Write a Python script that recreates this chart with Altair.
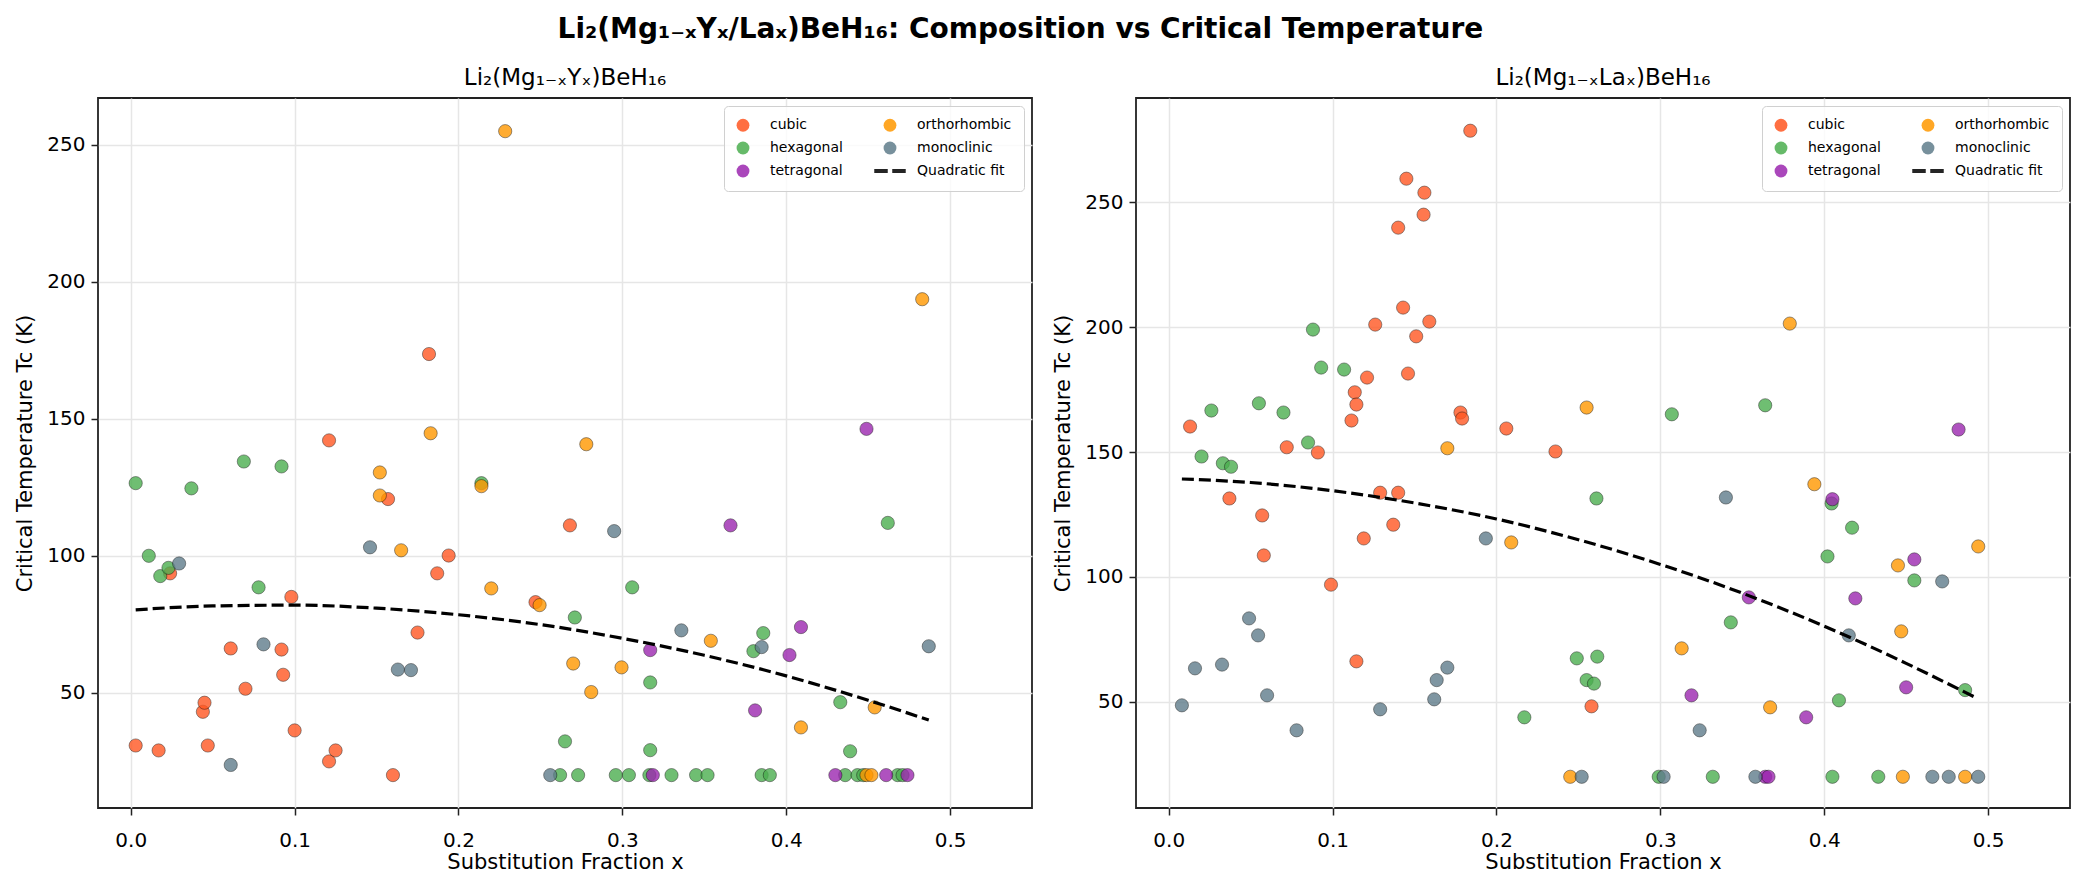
import altair as alt
import pandas as pd

phases = ["cubic", "hexagonal", "tetragonal", "orthorhombic", "monoclinic"]
legend_order = ["cubic", "hexagonal", "tetragonal", "orthorhombic", "monoclinic", "Quadratic fit"]
phase_colors = ["#FF5722", "#4CAF50", "#9C27B0", "#FF9800", "#607D8B", "black"]
dash_symbol = "M-2.45,-0.3H-0.35V0.3H-2.45Z M0.35,-0.3H2.45V0.3H0.35Z"

# Li2(Mg1-xYx)BeH16
y_cubic_x = [0.003, 0.017, 0.024, 0.044, 0.045, 0.047, 0.061, 0.070, 0.092, 0.093, 0.098, 0.100,
             0.121, 0.121, 0.125, 0.157, 0.160, 0.175, 0.182, 0.187, 0.194, 0.247, 0.268]
y_cubic_tc = [30.8, 29.0, 93.6, 43.1, 46.4, 30.8, 66.2, 51.5, 65.8, 56.6, 85.0, 36.3,
              142.1, 25.0, 29.0, 120.7, 20.0, 72.0, 173.6, 93.6, 100.1, 83.1, 111.1]
y_hex_x = [0.003, 0.011, 0.018, 0.023, 0.037, 0.069, 0.078, 0.092, 0.214, 0.262, 0.265, 0.271,
           0.273, 0.296, 0.304, 0.306, 0.3165, 0.317, 0.317, 0.330, 0.345, 0.352, 0.380, 0.385,
           0.386, 0.390, 0.433, 0.436, 0.439, 0.4435, 0.447, 0.462, 0.468, 0.471]
y_hex_tc = [126.5, 100.0, 92.6, 95.6, 124.6, 134.4, 88.5, 132.6, 126.5, 20.0, 32.3, 77.5,
            20.0, 20.0, 20.0, 88.5, 20.0, 53.8, 29.1, 20.0, 20.0, 20.0, 65.2, 20.0,
            71.8, 20.0, 46.6, 20.0, 28.7, 20.0, 20.0, 112.0, 20.0, 20.0]
y_tet_x = [0.317, 0.3186, 0.366, 0.381, 0.402, 0.409, 0.430, 0.449, 0.461, 0.474]
y_tet_tc = [65.6, 20.0, 111.1, 43.6, 63.8, 74.0, 20.0, 146.3, 20.0, 20.0]
y_orth_x = [0.152, 0.152, 0.165, 0.183, 0.214, 0.220, 0.2285, 0.2495, 0.270, 0.278, 0.281,
            0.2995, 0.354, 0.409, 0.449, 0.452, 0.454, 0.483]
y_orth_tc = [130.4, 122.0, 102.0, 144.7, 125.4, 88.1, 254.9, 82.0, 60.7, 140.7, 50.3,
             59.3, 69.0, 37.4, 20.0, 20.0, 44.7, 193.6]
y_mono_x = [0.0295, 0.061, 0.081, 0.146, 0.163, 0.171, 0.256, 0.295, 0.336, 0.385, 0.487]
y_mono_tc = [97.2, 23.7, 67.7, 103.1, 58.5, 58.3, 20.0, 109.0, 72.8, 66.7, 67.0]
y_fit_x = [0.003, 0.05, 0.1, 0.15, 0.2, 0.25, 0.3, 0.35, 0.4, 0.45, 0.487]
y_fit_tc = [80.3, 81.7, 82.0, 80.9, 78.5, 74.9, 69.9, 63.7, 56.2, 47.3, 40.1]

# Li2(Mg1-xLax)BeH16
la_cubic_x = [0.013, 0.037, 0.057, 0.058, 0.072, 0.091, 0.099, 0.1115, 0.1135, 0.1145, 0.1145,
              0.119, 0.121, 0.126, 0.129, 0.137, 0.140, 0.140, 0.143, 0.145, 0.146, 0.151,
              0.1555, 0.156, 0.159, 0.178, 0.179, 0.184, 0.206, 0.236, 0.258]
la_cubic_tc = [160.2, 131.4, 124.6, 108.6, 151.9, 149.8, 96.9, 162.6, 173.9, 169.0, 66.2,
               115.4, 179.8, 201.0, 133.7, 120.9, 239.8, 133.7, 207.8, 259.4, 181.4, 196.3,
               245.0, 253.8, 202.2, 165.8, 163.4, 278.6, 159.4, 150.2, 48.2]
la_hex_x = [0.020, 0.026, 0.033, 0.038, 0.055, 0.070, 0.085, 0.088, 0.093, 0.107, 0.217, 0.249,
            0.255, 0.2595, 0.261, 0.2615, 0.299, 0.307, 0.332, 0.343, 0.364, 0.402, 0.4045,
            0.405, 0.409, 0.417, 0.433, 0.455, 0.486]
la_hex_tc = [148.2, 166.6, 145.5, 144.1, 169.5, 165.8, 153.8, 199.0, 183.8, 183.0, 43.8, 67.4,
             58.7, 57.3, 131.4, 68.1, 20.0, 165.1, 20.0, 81.8, 168.7, 108.2, 129.4,
             20.0, 50.6, 119.7, 20.0, 98.6, 54.7]
la_tet_x = [0.319, 0.354, 0.364, 0.366, 0.389, 0.405, 0.419, 0.450, 0.455, 0.482]
la_tet_tc = [52.6, 91.8, 20.0, 20.0, 43.8, 131.1, 91.4, 55.8, 107.0, 159.0]
la_orth_x = [0.170, 0.209, 0.245, 0.255, 0.313, 0.367, 0.379, 0.394, 0.445, 0.447, 0.448, 0.486, 0.494]
la_orth_tc = [151.5, 113.8, 20.0, 167.8, 71.4, 47.8, 201.4, 137.1, 104.6, 78.2, 20.0, 20.0, 112.2]
la_mono_x = [0.008, 0.016, 0.0325, 0.049, 0.0545, 0.060, 0.078, 0.129, 0.162, 0.1635, 0.170,
             0.1935, 0.252, 0.302, 0.324, 0.340, 0.358, 0.415, 0.466, 0.472, 0.476, 0.494]
la_mono_tc = [48.6, 63.4, 64.9, 83.4, 76.6, 52.6, 38.6, 47.0, 51.0, 58.7, 63.7,
              115.4, 20.0, 20.0, 38.6, 131.8, 20.0, 76.6, 20.0, 98.2, 20.0, 20.0]
la_fit_x = [0.008, 0.05, 0.1, 0.15, 0.2, 0.25, 0.3, 0.35, 0.4, 0.45, 0.493]
la_fit_tc = [139.2, 137.8, 134.5, 129.6, 123.2, 114.9, 105.0, 93.5, 80.3, 65.4, 51.5]


def phase_frame(series):
    frames = []
    for phase, (xs, tcs) in zip(phases, series):
        frames.append(pd.DataFrame({"x": xs, "tc": tcs, "phase": phase}))
    return pd.concat(frames, ignore_index=True)


def panel(points, fit, title, y_domain):
    x = alt.X(
        "x:Q",
        scale=alt.Scale(domain=[-0.02, 0.55], nice=False, zero=False),
        axis=alt.Axis(values=[0, 0.1, 0.2, 0.3, 0.4, 0.5], format=".1f",
                      labelPadding=15, titlePadding=1),
        title="Substitution Fraction x",
    )
    y = alt.Y(
        "tc:Q",
        scale=alt.Scale(domain=y_domain, nice=False, zero=False),
        axis=alt.Axis(values=[50, 100, 150, 200, 250], labelPadding=6, titlePadding=11),
        title="Critical Temperature Tc (K)",
    )
    legend = alt.Legend(
        title=None,
        orient="top-right",
        offset=8,
        columns=2,
        labelFontSize=14,
        labelColor="black",
        labelOffset=20,
        columnPadding=30,
        rowPadding=7,
        padding=12,
        symbolSize=165,
        symbolStrokeWidth=0.5,
        symbolStrokeColor="black",
        symbolOpacity=0.85,
        fillColor="rgba(255,255,255,0.8)",
        strokeColor="#d0d0d0",
        cornerRadius=4,
    )
    dots = alt.Chart(points).mark_point(
        filled=True, size=175, opacity=0.8, stroke="black", strokeWidth=0.5
    ).encode(
        x=x,
        y=y,
        color=alt.Color(
            "phase:N",
            scale=alt.Scale(domain=legend_order, range=phase_colors),
            legend=legend,
        ),
        shape=alt.Shape(
            "phase:N",
            scale=alt.Scale(domain=legend_order, range=["circle"] * 5 + [dash_symbol]),
            legend=legend,
        ),
    )
    line = alt.Chart(fit).mark_line(
        color="black", strokeWidth=3.2, strokeDash=[12, 5], interpolate="monotone"
    ).encode(x="x:Q", y="tc:Q")
    return alt.layer(dots, line).properties(
        width=934,
        height=710,
        title=alt.Title(title, fontSize=23, fontWeight="normal", offset=8),
    )


y_points = phase_frame([
    (y_cubic_x, y_cubic_tc), (y_hex_x, y_hex_tc), (y_tet_x, y_tet_tc),
    (y_orth_x, y_orth_tc), (y_mono_x, y_mono_tc),
])
la_points = phase_frame([
    (la_cubic_x, la_cubic_tc), (la_hex_x, la_hex_tc), (la_tet_x, la_tet_tc),
    (la_orth_x, la_orth_tc), (la_mono_x, la_mono_tc),
])
y_fit = pd.DataFrame({"x": y_fit_x, "tc": y_fit_tc})
la_fit = pd.DataFrame({"x": la_fit_x, "tc": la_fit_tc})

chart = alt.hconcat(
    panel(y_points, y_fit, "Li₂(Mg₁₋ₓYₓ)BeH₁₆", [8, 267]),
    panel(la_points, la_fit, "Li₂(Mg₁₋ₓLaₓ)BeH₁₆", [7.5, 291.7]),
    spacing=18,
).resolve_scale(
    color="independent", shape="independent"
).properties(
    title=alt.Title(
        "Li₂(Mg₁₋ₓYₓ/Laₓ)BeH₁₆: Composition vs Critical Temperature",
        fontSize=28, fontWeight="bold", anchor="middle", offset=22, dx=-22,
    ),
    padding={"left": 5, "top": 8, "right": 5, "bottom": 0},
).configure(
    font="DejaVu Sans",
).configure_view(
    stroke="#222222", strokeWidth=1.8,
).configure_axis(
    domain=False,
    grid=True,
    gridColor="#e6e6e6",
    gridWidth=1.5,
    tickColor="#222222",
    tickWidth=1.5,
    tickSize=7,
    labelFontSize=20,
    labelColor="black",
    titleFontSize=21,
    titleFontWeight="normal",
    titleColor="black",
).configure_title(
    color="black",
)

chart.save("out.html", embed_options={"renderer": "svg", "actions": False})
